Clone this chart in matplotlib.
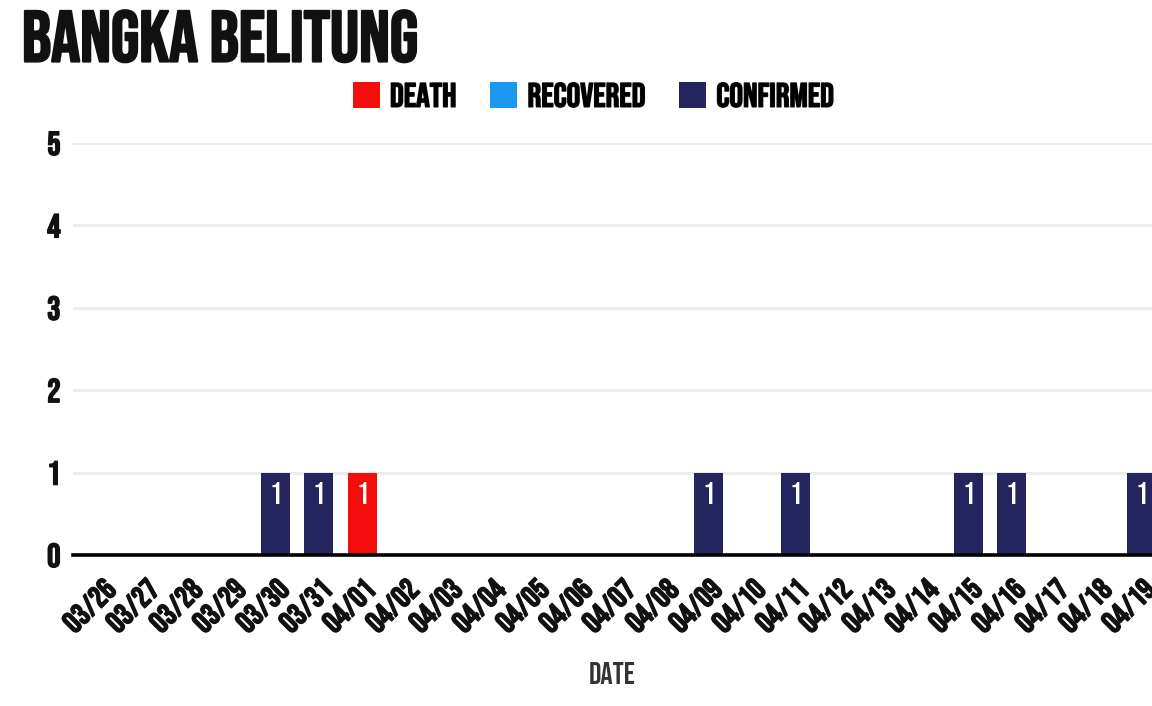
import matplotlib
matplotlib.use('Agg')
import matplotlib.pyplot as plt
import matplotlib.patheffects as pe
import numpy as np

# Data
dates = ['03/26', '03/27', '03/28', '03/29', '03/30', '03/31', '04/01', '04/02',
         '04/03', '04/04', '04/05', '04/06', '04/07', '04/08', '04/09', '04/10',
         '04/11', '04/12', '04/13', '04/14', '04/15', '04/16', '04/17', '04/18',
         '04/19']
death = [0, 0, 0, 0, 0, 0, 1, 0, 0, 0, 0, 0, 0, 0, 0, 0, 0, 0, 0, 0, 0, 0, 0, 0, 0]
recovered = [0] * 25
confirmed = [0, 0, 0, 0, 1, 1, 0, 0, 0, 0, 0, 0, 0, 0, 1, 0, 1, 0, 0, 0, 1, 1, 0, 0, 1]

FONT = ['Bebas Neue', 'DejaVu Sans']
plt.rcParams['font.family'] = FONT

c_death = '#f40d0d'
c_rec = '#1b98f0'
c_conf = '#24245e'

bold = lambda lw, col='#111111': [pe.withStroke(linewidth=lw, foreground=col)]

fig = plt.figure(figsize=(11.52, 7.06), dpi=100)
ax = fig.add_axes([73 / 1152, 151 / 706, 1 - 73 / 1152, (555 - 143) / 706])

x = np.arange(len(dates))
w = 0.67
d = np.array(death)
r = np.array(recovered)
c = np.array(confirmed)
bd = ax.bar(x, d, w, color=c_death, label='DEATH', zorder=3)
br = ax.bar(x, r, w, bottom=d, color=c_rec, label='RECOVERED', zorder=3)
bc = ax.bar(x, c, w, bottom=d + r, color=c_conf, label='CONFIRMED', zorder=3)

# value labels inside bars
tops = d + r + c
for i in x:
    for v in [d[i], r[i], c[i]]:
        if v > 0:
            ax.annotate(str(v), (x[i], tops[i]), xytext=(0, -7), textcoords='offset points',
                        ha='center', va='top', color='white', fontsize=22, zorder=4)
            break

ax.set_xlim(-0.68, 24.24)
ax.set_ylim(0, 5)
ax.set_yticks(range(0, 6))
ax.set_xticks(x)
ax.set_xticklabels(dates, rotation=45, ha='right', va='top', rotation_mode='anchor')
ax.tick_params(axis='x', length=0, labelsize=22, pad=15, labelcolor='#111111')
ax.tick_params(axis='y', length=0, labelsize=24, pad=9, labelcolor='#111111')
for t in ax.get_xticklabels() + ax.get_yticklabels():
    t.set_path_effects(bold(1.0))
for s in ax.spines.values():
    s.set_visible(False)
ax.yaxis.grid(True, color='#ececec', linewidth=2.2, zorder=0)
ax.axhline(0, color='black', linewidth=2.6, zorder=5, clip_on=False)

ax.set_xlabel('DATE', fontsize=22, color='#333333', labelpad=20)

fig.text(22 / 1152, 1 - 11 / 706, 'BANGKA BELITUNG', fontsize=52, va='top', ha='left',
         color='#111111', path_effects=bold(1.6))

leg = fig.legend(handles=[bd, br, bc], loc='center', bbox_to_anchor=(593 / 1152, 1 - 95 / 706),
                 ncol=3, frameon=False, fontsize=24.5, handlelength=0.8, handleheight=0.8,
                 handletextpad=0.3, columnspacing=1.0, borderpad=0)
for t in leg.get_texts():
    t.set_path_effects(bold(1.0))

fig.savefig('out.png', dpi=100)
